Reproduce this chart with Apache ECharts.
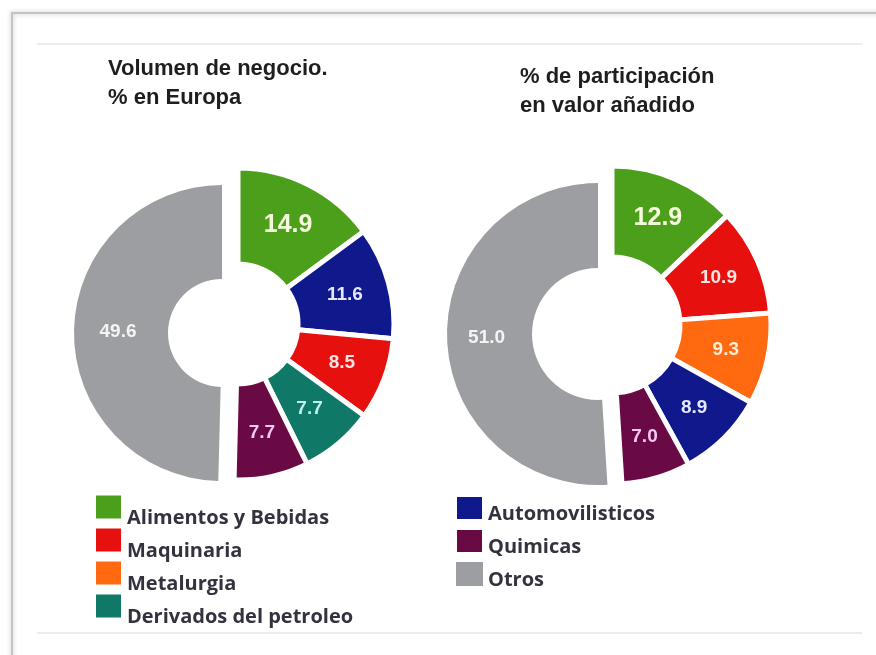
<!DOCTYPE html>
<html>
<head>
<meta charset="utf-8">
<script src="https://cdn.jsdelivr.net/npm/echarts@6/dist/echarts.min.js"></script>
<style>
html,body{margin:0;padding:0;background:#fff;}
#c{width:876px;height:655px;}
</style>
</head>
<body>
<div id="c"></div>
<script>
// ---- data ----
const leftNames = ['Alimentos y Bebidas', 'Automovilisticos', 'Maquinaria', 'Derivados del petroleo', 'Quimicas', 'Otros'];
const leftValues = [14.9, 11.6, 8.5, 7.7, 7.7, 49.6];
const rightNames = ['Alimentos y Bebidas', 'Maquinaria', 'Metalurgia', 'Automovilisticos', 'Quimicas', 'Otros'];
const rightValues = [12.9, 10.9, 9.3, 8.9, 7.0, 51.0];
const legendLeftNames = ['Alimentos y Bebidas', 'Maquinaria', 'Metalurgia', 'Derivados del petroleo'];
const legendRightNames = ['Automovilisticos', 'Quimicas', 'Otros'];
const titleLeft = 'Volumen de negocio.\n% en Europa';
const titleRight = '% de participación\nen valor añadido';
const restName = 'Otros';

// ---- styles ----
const colors = {
  'Alimentos y Bebidas': '#4c9f1b',
  'Automovilisticos': '#10198c',
  'Maquinaria': '#e6100f',
  'Metalurgia': '#ff6a10',
  'Derivados del petroleo': '#0f7866',
  'Quimicas': '#690a44',
  'Otros': '#9c9ea1'
};
const labelColors = {
  'Alimentos y Bebidas': '#f6f8dc',
  'Automovilisticos': '#e4e8ff',
  'Maquinaria': '#ffe4e4',
  'Metalurgia': '#fff0dc',
  'Derivados del petroleo': '#bff2ee',
  'Quimicas': '#f4c8f2',
  'Otros': '#f4f4f4'
};
const legendFont = { fontFamily: 'Open Sans, sans-serif', fontWeight: 'bold', fontSize: 20, color: '#33333f' };

function buildData(names, values, showRest) {
  return names.map(function (n, i) {
    const isRest = n === restName;
    const visible = showRest ? isRest : !isRest;
    return {
      name: n,
      value: values[i],
      itemStyle: visible ? { color: colors[n] } : { color: 'transparent', borderWidth: 0 },
      label: {
        show: visible,
        color: labelColors[n],
        fontSize: i === 0 ? 25 : 19
      }
    };
  });
}

function pieSeries(names, values, showRest, center, radius, border) {
  return {
    type: 'pie',
    center: center,
    radius: radius,
    startAngle: 90,
    clockwise: true,
    avoidLabelOverlap: false,
    silent: true,
    legendHoverLink: false,
    itemStyle: { borderColor: '#ffffff', borderWidth: border },
    label: {
      position: 'inside',
      fontFamily: 'Liberation Sans, Arial, sans-serif',
      fontWeight: 'bold',
      formatter: function (p) { return p.value.toFixed(1); }
    },
    labelLine: { show: false },
    emphasis: { disabled: true },
    data: buildData(names, values, showRest)
  };
}

function legendData(names) {
  return names.map(function (n) { return { name: n, icon: 'rect', itemStyle: { color: colors[n] } }; });
}

function legendCfg(names, left, top, itemHeight, gap, spacer) {
  return {
    data: legendData(names),
    orient: 'vertical', left: left, top: top, padding: 0,
    itemWidth: 27, itemHeight: itemHeight, itemGap: gap,
    selectedMode: false,
    formatter: function (name) { return '{s| }\n{a|' + name + '}'; },
    textStyle: {
      rich: {
        s: { fontSize: 8, lineHeight: spacer },
        a: Object.assign({ lineHeight: 20 }, legendFont)
      }
    }
  };
}

const chart = echarts.init(document.getElementById('c'), null, { renderer: 'canvas' });
chart.setOption({
  animation: false,
  backgroundColor: '#ffffff',
  title: [
    {
      text: titleLeft, left: 108, top: 54, padding: 0,
      textStyle: { fontFamily: 'Liberation Sans, Arial, sans-serif', fontWeight: 'bold', fontSize: 22, lineHeight: 29, color: '#1e1e1e' }
    },
    {
      text: titleRight, left: 520, top: 62, padding: 0,
      textStyle: { fontFamily: 'Liberation Sans, Arial, sans-serif', fontWeight: 'bold', fontSize: 22, lineHeight: 29, color: '#1e1e1e' }
    }
  ],
  legend: [
    legendCfg(legendLeftNames, 94, 493, 25, -2, 22),
    legendCfg(legendRightNames, 455, 494, 24, 3, 12)
  ],
  graphic: [
    { type: 'rect', shape: { x: 12, y: 13, width: 900, height: 700 }, style: { fill: 'none', stroke: '#c4c4c4', lineWidth: 2, shadowBlur: 5, shadowColor: 'rgba(0,0,0,0.25)' }, silent: true },
    { type: 'line', shape: { x1: 37, y1: 44, x2: 862, y2: 44 }, style: { stroke: '#ececec', lineWidth: 2 }, silent: true },
    { type: 'line', shape: { x1: 37, y1: 633, x2: 862, y2: 633 }, style: { stroke: '#ececec', lineWidth: 2 }, silent: true }
  ],
  series: [
    pieSeries(leftNames, leftValues, false, [238, 324], [60, 156], 5),
    pieSeries(leftNames, leftValues, true, [222, 333], [54, 148], 0),
    pieSeries(rightNames, rightValues, false, [612, 325], [68, 159], 5),
    pieSeries(rightNames, rightValues, true, [598, 334], [66, 151], 0)
  ]
});
</script>
</body>
</html>
